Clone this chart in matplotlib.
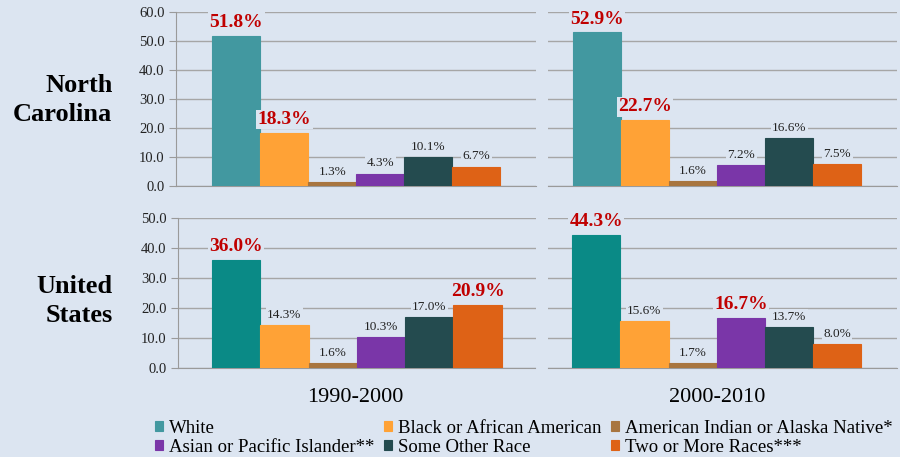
import numpy as np
import matplotlib.pyplot as plt

plt.rcParams['font.family'] = ['Liberation Serif', 'DejaVu Serif']

# dados
categorias = ['White', 'Black or African American', 'American Indian or Alaska Native*',
              'Asian or Pacific Islander**', 'Some Other Race', 'Two or More Races***']
nc_1990_2000 = [51.8, 18.3, 1.3, 4.3, 10.1, 6.7]
nc_2000_2010 = [52.9, 22.7, 1.6, 7.2, 16.6, 7.5]
us_1990_2000 = [36.0, 14.3, 1.6, 10.3, 17.0, 20.9]
us_2000_2010 = [44.3, 15.6, 1.7, 16.7, 13.7, 8.0]
destaque_nc_1990 = [0, 1]
destaque_nc_2000 = [0, 1]
destaque_us_1990 = [0, 5]
destaque_us_2000 = [0, 3]
periodos = ['1990-2000', '2000-2010']
linhas = ['North\nCarolina', 'United\nStates']

bg = '#dce5f1'
cores_nc = ['#4298a0', '#ffa236', '#a8753f', '#7a36a8', '#244b4f', '#de6216']
cores_us = ['#0a8a86', '#ffa236', '#a8753f', '#7a36a8', '#244b4f', '#de6216']

fig = plt.figure(figsize=(9, 4.57), dpi=100, facecolor=bg)

posicoes = [
    [0.196, 0.593, 0.399, 0.381],
    [0.609, 0.593, 0.388, 0.381],
    [0.198, 0.195, 0.397, 0.328],
    [0.609, 0.195, 0.388, 0.328],
]
dados = [nc_1990_2000, nc_2000_2010, us_1990_2000, us_2000_2010]
destaques = [destaque_nc_1990, destaque_nc_2000, destaque_us_1990, destaque_us_2000]
ylims = [60, 60, 50, 50]
xlims = [(-1.25, 6.23), (-1.02, 6.25), (-1.2, 6.2), (-1.0, 6.25)]

x = np.arange(len(categorias))
barras_legenda = None
for i in range(4):
    ax = fig.add_axes(posicoes[i])
    ax.set_facecolor(bg)
    cores = cores_nc if i < 2 else cores_us
    b = ax.bar(x, dados[i], width=1.0, color=cores, edgecolor=cores,
               linewidth=0.8, zorder=3)
    if barras_legenda is None:
        barras_legenda = b
    ax.set_ylim(0, ylims[i])
    ax.set_xlim(*xlims[i])
    ax.set_yticks(np.arange(0, ylims[i] + 1, 10))
    ax.set_yticklabels(['{:.1f}'.format(v) for v in np.arange(0, ylims[i] + 1, 10)])
    ax.yaxis.grid(True, color='#a6a6a6', linewidth=1.0, zorder=0)
    ax.set_axisbelow(True)
    ax.set_xticks([])
    for s in ['top', 'right']:
        ax.spines[s].set_visible(False)
    ax.spines['bottom'].set_color('#9a9a9a')
    ax.spines['left'].set_color('#9a9a9a')
    ax.tick_params(axis='y', colors='#9a9a9a', length=5, labelcolor='#222222', labelsize=10.5)
    if i % 2 == 1:
        ax.spines['left'].set_visible(False)
        ax.tick_params(axis='y', labelleft=False, length=0)
    for j, v in enumerate(dados[i]):
        if j in destaques[i]:
            ax.annotate('{:.1f}%'.format(v), (x[j], v), xytext=(0, 3.5), textcoords='offset points',
                        ha='center', va='bottom', fontsize=14, fontweight='bold', color='#c00000',
                        bbox=dict(facecolor=bg, edgecolor='none', pad=1), zorder=4)
        else:
            ax.annotate('{:.1f}%'.format(v), (x[j], v), xytext=(0, 3), textcoords='offset points',
                        ha='center', va='bottom', fontsize=9.5, color='#222222',
                        bbox=dict(facecolor=bg, edgecolor='none', pad=1), zorder=4)

# rótulos das linhas e períodos
fig.text(0.125, 0.781, linhas[0], ha='right', va='center', fontsize=19, fontweight='bold',
         linespacing=1.3)
fig.text(0.125, 0.341, linhas[1], ha='right', va='center', fontsize=19, fontweight='bold',
         linespacing=1.3)
fig.text(0.395, 0.131, periodos[0], ha='center', va='center', fontsize=16)
fig.text(0.797, 0.131, periodos[1], ha='center', va='center', fontsize=16)

ordem = [0, 3, 1, 4, 2, 5]
fig.legend([barras_legenda[k] for k in ordem], [categorias[k] for k in ordem],
           ncol=3, loc='center left', bbox_to_anchor=(0.172, 0.042), frameon=False,
           fontsize=13.5, handlelength=0.45, handleheight=0.45, handletextpad=0.3,
           columnspacing=0.5, labelspacing=0.12, borderaxespad=0, borderpad=0)

plt.savefig('out.png', dpi=100, facecolor=bg)
